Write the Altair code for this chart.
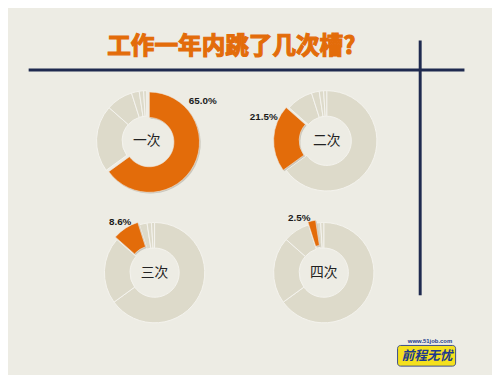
import math
import altair as alt
import pandas as pd

# ---- data ----
categories = ["一次", "二次", "三次", "四次", "五次", "六次及以上"]
values = [65.0, 21.5, 8.6, 2.5, 1.4, 1.0]
panels = ["一次", "二次", "三次", "四次"]
title_text = "工作一年内跳了几次槽?"

# ---- styling / layout ----
BG = "#EDECE4"
BEIGE = "#DDDACA"
ORANGE = "#E36C0A"
NAVY = "#1F2A4F"
SEP = "#F4F3EE"
centers = [(141, 132), (324, 132), (149, 266), (321, 266)]
label_pos = [(198, 92), (260, 108), (114, 215), (296, 210)]
R_OUT, R_IN = 51, 25
EXPLODE = 3

df = pd.DataFrame({"cat": categories, "value": values, "order": list(range(len(values)))})
total = float(sum(values))
theta_scale = alt.Scale(domain=[0, total])

base = (
    alt.Chart(df)
    .transform_window(v1="sum(value)", sort=[alt.SortField("order")], frame=[None, 0])
    .transform_calculate(v0="datum.v1 - datum.value",
                         label="format(datum.value, '.1f') + '%'")
)

layers = []
cum = 0.0
starts = {}
for c, v in zip(categories, values):
    starts[c] = (cum, cum + v)
    cum += v

for i, cat in enumerate(panels):
    cx, cy = centers[i]
    s, e = starts[cat]
    mid = (s + e) / 2 / total * 2 * math.pi
    dx, dy = EXPLODE * math.sin(mid), -EXPLODE * math.cos(mid)

    others = base.transform_filter(alt.datum.cat != cat).mark_arc(
        x=cx, y=cy, innerRadius=R_IN, outerRadius=R_OUT, stroke=SEP, strokeWidth=1
    ).encode(
        theta=alt.Theta("v0:Q", scale=theta_scale),
        theta2="v1:Q",
        color=alt.value(BEIGE),
    )
    shadow = base.transform_filter(alt.datum.cat == cat).mark_arc(
        x=cx, y=cy, xOffset=dx + 1.2, yOffset=dy + 1.2,
        innerRadius=R_IN, outerRadius=R_OUT, opacity=0.45
    ).encode(
        theta=alt.Theta("v0:Q", scale=theta_scale),
        theta2="v1:Q",
        color=alt.value("#9E9A8C"),
    )
    hl = base.transform_filter(alt.datum.cat == cat).mark_arc(
        x=cx, y=cy, xOffset=dx, yOffset=dy,
        innerRadius=R_IN, outerRadius=R_OUT, stroke="#F0E6DA", strokeWidth=0.6
    ).encode(
        theta=alt.Theta("v0:Q", scale=theta_scale),
        theta2="v1:Q",
        color=alt.value(ORANGE),
    )
    center_txt = alt.Chart(df).transform_filter(alt.datum.cat == cat).mark_text(
        x=cx, y=cy, font="Noto Sans CJK SC", fontSize=14, color="#222222",
        align="center", baseline="middle"
    ).encode(text="cat:N")
    lx, ly = label_pos[i]
    pct_txt = base.transform_filter(alt.datum.cat == cat).mark_text(
        x=lx, y=ly, font="Liberation Sans", fontWeight="bold", fontSize=10,
        color="#1A1A1A", align="center", baseline="middle"
    ).encode(text="label:N")
    layers += [others, shadow, hl, center_txt, pct_txt]

one = pd.DataFrame({"a": [0]})
hline = alt.Chart(one).mark_rule(color=NAVY, strokeWidth=3).encode(
    x=alt.value(21), x2=alt.value(464), y=alt.value(60)
)
vline = alt.Chart(one).mark_rule(color=NAVY, strokeWidth=3).encode(
    x=alt.value(419), y=alt.value(30), y2=alt.value(289)
)
title = alt.Chart(one).mark_text(
    font="Noto Sans CJK SC", fontWeight="bold", fontSize=24, color=ORANGE,
    stroke=ORANGE, strokeWidth=1.2, align="center", baseline="middle"
).encode(text=alt.value(title_text), x=alt.value(227), y=alt.value(37))

logo_box = alt.Chart(one).mark_rect(
    fill="#F4E01E", stroke="#3A4C8C", strokeWidth=1, cornerRadius=3
).encode(x=alt.value(396), x2=alt.value(455), y=alt.value(340), y2=alt.value(361))
logo_txt = alt.Chart(one).mark_text(
    font="Noto Sans CJK SC", fontWeight="bold", fontStyle="italic", fontSize=13,
    color="#1C3A8E", align="center", baseline="middle"
).encode(text=alt.value("前程无忧"), x=alt.value(426), y=alt.value(351))
logo_url = alt.Chart(one).mark_text(
    font="Liberation Sans", fontWeight="bold", fontSize=6, color="#1C3A8E",
    align="center", baseline="middle"
).encode(text=alt.value("www.51job.com"), x=alt.value(429), y=alt.value(335))

chart = alt.layer(hline, vline, title, *layers, logo_box, logo_txt, logo_url).properties(
    width=492, height=367, autosize="none", padding=0, background=BG
).configure_view(strokeWidth=0)

chart.save("out.html", embed_options={"renderer": "svg", "actions": False})
